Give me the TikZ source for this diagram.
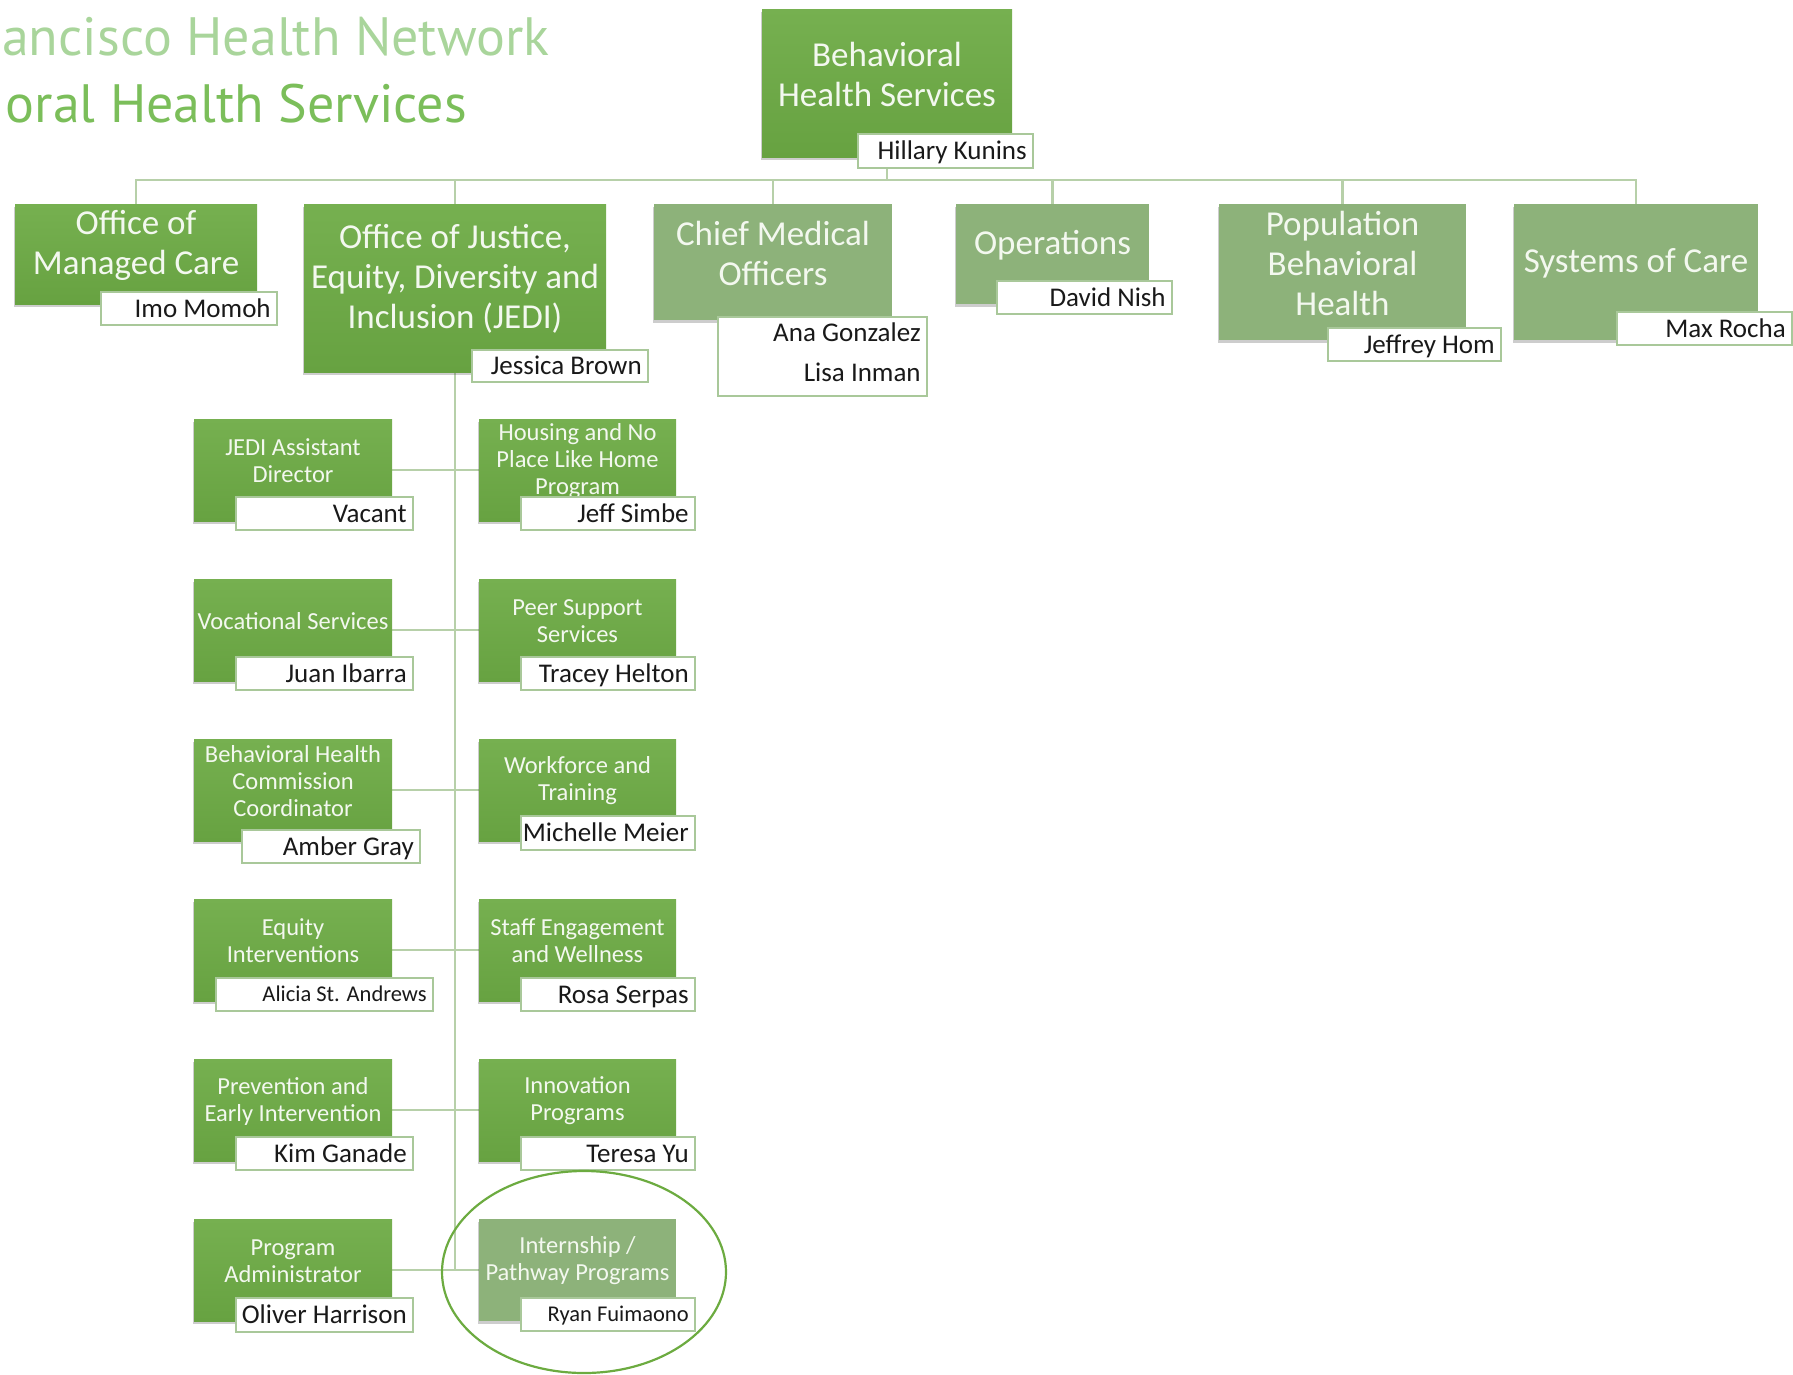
\documentclass[tikz,border=0pt]{standalone}
\usepackage{fontspec}
\setmainfont{Carlito}
\newfontfamily\titlefont{PT Sans}
\usetikzlibrary{shadows,backgrounds}
\definecolor{gA}{HTML}{6DA946}
\definecolor{gAt}{HTML}{76B050}
\definecolor{gAb}{HTML}{67A241}
\definecolor{gB}{HTML}{8DB27A}
\definecolor{lineC}{HTML}{B7D0A9}
\definecolor{nameB}{HTML}{A9C89A}
\definecolor{tOne}{HTML}{A9D59B}
\definecolor{tTwo}{HTML}{7BBE5A}
\definecolor{ellC}{HTML}{6CAB40}
\definecolor{boxtxt}{HTML}{F3F8EF}
\newcommand\obox[7]{%
  \node[#2, minimum width={(#5)-(#3)}, minimum height={(#6)-(#4)}] (#1) at ({((#3)+(#5))/2},{((#4)+(#6))/2}) {};
  \node[#7] (#1-t) at ([yshift=9pt]#1.center)}
\newcommand\nbox[7][]{%
  \node[namebox, minimum width={(#5)-(#3)}, minimum height={(#6)-(#4)}] (#2) at ({((#3)+(#5))/2},{((#4)+(#6))/2}) {};
  \node[nametxt,#1] (#2-t) at ([xshift=-7pt]#2.east) {#7};}
\begin{document}
\begin{tikzpicture}[x=1pt,y=-1pt,
  conn/.style={draw=lineC, line width=2.2pt},
  shbox/.style={rectangle, inner sep=0pt, draw=none,
    drop shadow={shadow xshift=-1.5pt, shadow yshift=-3pt, opacity=0.28, fill=black!70}},
  brightbox/.style={shbox, top color=gAt, bottom color=gAb},
  paleBox/.style={shbox, fill=gB},
  topTxt/.style={text=boxtxt, font=\fontsize{35}{40}\selectfont, align=center, inner sep=0pt},
  lvTwoTxt/.style={text=boxtxt, font=\fontsize{35}{40}\selectfont, align=center, inner sep=0pt},
  lvThreeTxt/.style={text=boxtxt, font=\fontsize{24.5}{27}\selectfont, align=center, inner sep=0pt},
  namebox/.style={rectangle, fill=white, draw=nameB, line width=1.8pt, inner sep=0pt},
  nametxt/.style={text=black!90, font=\fontsize{27}{33}\selectfont, anchor=east, inner sep=0pt, text height=17.5pt, text depth=0pt},
  smallname/.style={font=\fontsize{22.5}{28}\selectfont, text height=14.5pt}
]
\useasboundingbox (0,0) rectangle (1793,1374);
\clip (0,0) rectangle (1793,1374);

% title
\node[anchor=base west, inner sep=0pt, text=tOne, font=\titlefont\fontsize{54}{60}\selectfont] (title1) at (2,55) {ancisco Health Network};
\node[anchor=base east, inner sep=0pt, text=tTwo, font=\titlefont\fontsize{54}{60}\selectfont] (title2) at (467,122) {oral Health Services};

% top
\obox{top}{brightbox}{762}{9}{1012}{157}{topTxt}{Behavioral\\Health Services};
\nbox{topN}{858}{134}{1033}{168}{Hillary Kunins}

% level 2
\obox{omc}{brightbox}{15}{204}{257}{304}{lvTwoTxt}{Office of\\Managed Care};
\nbox{omcN}{101}{292}{277}{325}{Imo Momoh}
\obox{jedi}{brightbox}{304}{204}{606}{372}{lvTwoTxt}{Office of Justice,\\Equity, Diversity and\\Inclusion (JEDI)};
\nbox{jediN}{472}{350}{648}{382}{Jessica Brown}
\obox{cmo}{paleBox}{654}{204}{892}{320}{lvTwoTxt}{Chief Medical\\Officers};
\node[namebox, minimum width=209, minimum height=79] (cmoN) at (822.5,356.5) {};
\node[nametxt, anchor=base east, text height=, text depth=] (cmoN-a) at ([xshift=-7pt,yshift=-25pt]cmoN.north east) {Ana Gonzalez};
\node[nametxt, anchor=base east, text height=, text depth=] (cmoN-b) at ([xshift=-7pt,yshift=-65pt]cmoN.north east) {Lisa Inman};
\obox{ops}{paleBox}{956}{204}{1149}{304}{lvTwoTxt}{Operations};
\nbox{opsN}{997}{281}{1172}{314}{David Nish}
\obox{pop}{paleBox}{1219}{204}{1466}{340}{lvTwoTxt}{Population\\Behavioral\\Health};
\nbox{popN}{1328}{328}{1501}{361}{Jeffrey Hom}
\obox{sys}{paleBox}{1514}{204}{1758}{340}{lvTwoTxt}{Systems of Care};
\nbox{sysN}{1617}{312}{1792}{345}{Max Rocha}

% level 3 left column
\obox{l1}{brightbox}{194}{419}{392}{521}{lvThreeTxt}{JEDI Assistant\\Director};
\nbox{l1N}{236}{497}{413}{530}{Vacant}
\obox{l2}{brightbox}{194}{579}{392}{681}{lvThreeTxt}{Vocational Services};
\nbox{l2N}{236}{657}{413}{690}{Juan Ibarra}
\obox{l3}{brightbox}{194}{739}{392}{841}{lvThreeTxt}{Behavioral Health\\Commission\\Coordinator};
\nbox{l3N}{242}{830}{420}{863}{Amber Gray}
\obox{l4}{brightbox}{194}{899}{392}{1001}{lvThreeTxt}{Equity\\Interventions};
\nbox[smallname]{l4N}{216}{978}{433}{1011}{Alicia St. Andrews}
\obox{l5}{brightbox}{194}{1059}{392}{1161}{lvThreeTxt}{Prevention and\\Early Intervention};
\nbox{l5N}{236}{1137}{413}{1170}{Kim Ganade}
\obox{l6}{brightbox}{194}{1219}{392}{1321}{lvThreeTxt}{Program\\Administrator};
\nbox{l6N}{236}{1298}{413}{1332}{Oliver Harrison}

% level 3 right column
\obox{r1}{brightbox}{479}{419}{676}{521}{lvThreeTxt}{Housing and No\\Place Like Home\\Program};
\nbox{r1N}{521}{497}{695}{530}{Jeff Simbe}
\obox{r2}{brightbox}{479}{579}{676}{681}{lvThreeTxt}{Peer Support\\Services};
\nbox{r2N}{521}{657}{695}{690}{Tracey Helton}
\obox{r3}{brightbox}{479}{739}{676}{841}{lvThreeTxt}{Workforce and\\Training};
\nbox{r3N}{521}{816}{695}{850}{Michelle Meier}
\obox{r4}{brightbox}{479}{899}{676}{1001}{lvThreeTxt}{Staff Engagement\\and Wellness};
\nbox{r4N}{521}{978}{695}{1011}{Rosa Serpas}
\obox{r5}{brightbox}{479}{1059}{676}{1161}{lvThreeTxt}{Innovation\\Programs};
\nbox{r5N}{521}{1137}{695}{1170}{Teresa Yu}
\obox{r6}{paleBox}{479}{1219}{676}{1321}{lvThreeTxt}{Internship /\\Pathway Programs};
\nbox[smallname]{r6N}{521}{1298}{695}{1331}{Ryan Fuimaono}

% highlight ellipse
\draw[draw=ellC, line width=2.2pt] (584,1272) ellipse [x radius=142pt, y radius=101pt];

% connectors
\begin{scope}[on background layer]
  \coordinate (busY) at (887,180);
  \draw[conn] (top.south) -- (busY);
  \draw[conn] (omc.north) -- (omc.north |- busY) -- (sys.north |- busY) -- (sys.north);
  \foreach \n in {jedi,cmo,ops,pop} \draw[conn] (\n.north) -- (\n.north |- busY);
  \draw[conn] (jedi.south) -- (jedi.south |- l6.east);
  \foreach \i in {1,...,6} \draw[conn] (l\i.east) -- (r\i.west);
\end{scope}
\end{tikzpicture}
\end{document}
